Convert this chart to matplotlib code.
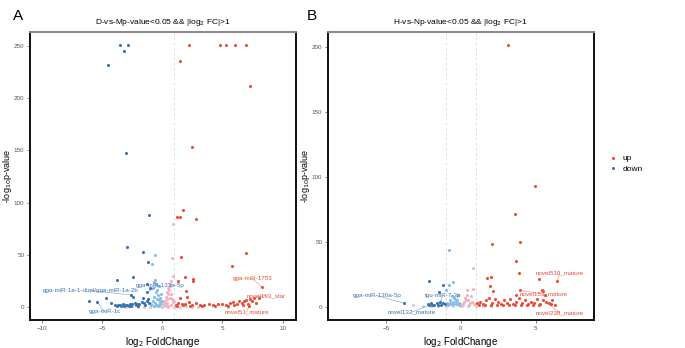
import numpy as np
import matplotlib.pyplot as plt

plt.rcParams['font.family'] = ['Liberation Sans', 'DejaVu Sans']

# ---- panel A data (D-vs-M) ----
a_up_x = [2.24, 4.78, 5.28, 6.08, 6.97, 1.44, 7.32, 2.43, 1.71, 1.49, 1.22, 2.79, 1.58, 6.97, 5.83,
          1.85, 2.57, 2.55, 1.30, 8.27, 7.60, 7.24, 2.00, 2.05, 1.50,
          1.1, 1.3, 1.6, 1.9, 2.2, 2.5, 2.8, 3.1, 3.5, 3.9, 4.2, 4.6, 5.0, 5.3, 5.6, 5.9,
          6.2, 6.4, 6.6, 6.8, 7.0, 7.3, 7.5, 7.8, 8.0, 1.2, 1.7, 2.3, 3.3, 4.4, 5.5, 6.0, 6.7, 7.1]
a_up_y = [251, 251, 251, 251, 251, 236, 212, 153.5, 93, 86, 86, 84.6, 47.8, 51.3, 38.8,
          28.5, 27, 25, 25, 19, 9, 1, 15.7, 10, 9,
          2, 4, 3, 2.5, 5, 2, 3.5, 2, 1.5, 3, 2, 2.5, 3, 1.5, 4, 5,
          3, 6, 4, 5.5, 7, 8, 6, 4, 9, 1, 1.5, 1.2, 1, 1.3, 1.1, 2, 1.5, 3]
a_down_x = [-3.53, -2.82, -3.18, -4.53, -3.04, -1.10, -2.93, -1.63, -1.19, -3.76, -2.46, -4.70,
            -6.08, -5.40, -4.30, -2.60, -2.40, -1.30,
            -3.9, -3.7, -3.5, -3.3, -3.1, -2.9, -2.7, -2.5, -2.3, -2.1, -1.9, -1.7, -1.5, -1.3,
            -1.1, -3.8, -3.2, -2.6, -2.0, -1.4, -1.2, -1.6, -2.2, -2.8, -3.4, -1.05, -1.25]
a_down_y = [251, 251, 245, 232, 148, 88.5, 57, 53, 43, 26, 29, 8.6,
            5.8, 4.5, 4, 11.5, 10, 14,
            1.5, 2, 1.8, 2.5, 1.6, 2.2, 3, 2.4, 4, 3.1, 2.6, 5, 4.2, 6,
            3.5, 0.8, 1, 1.2, 1, 1.4, 8, 9, 2, 1.3, 1.2, 18, 22]
a_ldown_x = [-0.85, -0.58, -0.9, -0.8, -0.7, -0.6, -0.5, -0.4, -0.3, -0.2, -0.1, -0.95, -0.75,
             -0.65, -0.55, -0.45, -0.35, -0.25, -0.15, -0.05, -0.6, -0.4, -0.3, -0.2, -0.7]
a_ldown_y = [41, 50, 3, 6, 10, 4, 14, 8, 20, 5, 12, 2, 18,
             24, 22, 16, 11, 7, 3, 6, 26, 2, 1, 9, 1]
a_pink_x = [0.89, 0.80, 0.1, 0.2, 0.3, 0.4, 0.5, 0.6, 0.7, 0.8, 0.9, 0.15, 0.25, 0.35, 0.45,
            0.55, 0.65, 0.75, 0.85, 0.95, 0.3, 0.5, 0.7, 0.4, 0.6]
a_pink_y = [79.5, 47, 3, 6, 10, 14, 18, 22, 12, 8, 5, 2, 4, 8, 12,
            16, 20, 25, 30, 6, 1, 1, 2, 4, 9]
a_grey_x = [-3.0, -2.5, -2.0, -1.5, -1.0, -0.5, 0.0, 0.5, 1.0, 1.5, 2.0, 2.5, 3.0, 5.5]
a_grey_y = [0.3, 0.5, 0.2, 0.4, 0.3, 0.5, 0.2, 0.4, 0.3, 0.2, 0.5, 0.3, 0.2, 0.4]

# labels: text, text x, text y, point x, point y, colour
a_labels = [('gga-miR-1a-1-dupl/gga-miR-1a-2b', -5.97, 15.7, -2.60, 11.5, '#3B74B4'),
            ('gga-miR-133a-5p', -0.17, 21.0, -1.30, 14.0, '#3B74B4'),
            ('gga-miR-1c', -4.8, -4.5, -5.40, 4.5, '#3B74B4'),
            ('gga-miR-1753', 7.5, 27.0, 8.27, 19.0, '#EE4C3A'),
            ('novel193_star', 8.6, 11.0, 7.60, 9.0, '#EE4C3A'),
            ('novel51_mature', 7.0, -5.0, 7.24, 1.0, '#EE4C3A')]

# ---- panel B data (H-vs-N) ----
b_up_x = [3.13, 4.98, 3.60, 3.95, 2.09, 3.69, 3.87, 6.42, 5.20, 2.00, 1.76, 1.93, 2.15, 3.95,
          3.70, 5.40, 5.50, 5.60, 5.50,
          1.1, 1.3, 1.5, 1.7, 1.9, 2.1, 2.3, 2.5, 2.7, 2.9, 3.1, 3.3, 3.5, 3.7, 3.9, 4.1,
          4.3, 4.5, 4.7, 4.9, 5.1, 5.3, 5.7, 5.9, 6.1, 6.3, 1.2, 1.6, 2.0, 2.4, 2.8, 3.2,
          3.6, 4.0, 4.4, 4.8, 5.2, 6.0]
b_up_y = [201, 92.8, 71.5, 49.8, 48.2, 35, 26.2, 19.5, 21.5, 23, 22, 16, 12, 12.5,
          9, 13, 12, 9, 5,
          3, 4, 2, 5, 7, 3, 6, 4, 2, 5, 3, 6, 2, 4, 7, 3,
          5, 2, 4, 3, 6, 2, 4, 3, 5, 1, 1, 1.5, 1, 1.2, 1.4, 1,
          1.5, 1.2, 1, 1.1, 1.3, 2]
b_down_x = [-2.16, -1.18, -1.45, -3.78, -2.2, -2.0, -1.8, -1.6, -1.4, -1.2, -1.05, -1.9, -1.5,
            -1.3, -2.1]
b_down_y = [19.8, 16.5, 11.3, 2.6, 2, 3, 1.5, 2.5, 4, 3, 2, 1, 1.2, 1.5, 1]
b_ldown_x = [-0.80, -0.80, -0.50, -1.00, -0.9, -0.7, -0.6, -0.5, -0.4, -0.3, -0.2, -0.1,
             -0.85, -0.65, -0.55, -0.45, -0.35, -0.25, -0.15, -0.75]
b_ldown_y = [43.4, 17, 19, 12.7, 3, 5, 8, 2, 6, 4, 9, 3,
             1, 2, 4, 7, 2, 5, 1, 3]
b_pink_x = [0.80, 0.82, 0.38, 0.1, 0.2, 0.3, 0.4, 0.5, 0.6, 0.7, 0.9, 0.15, 0.35, 0.55, 0.75, 0.95]
b_pink_y = [30, 13.5, 13, 2, 4, 7, 9, 5, 3, 8, 2, 1, 5, 1, 4, 2]
b_grey_x = [-3.2, -2.5, -2.0, -1.5, -1.0, -0.5, 0.0, 0.5, 1.0, 1.5, 2.0]
b_grey_y = [1.3, 0.3, 0.5, 0.2, 0.4, 0.3, 0.2, 0.4, 0.3, 0.2, 0.3]

b_labels = [('gga-miR-130a-5p', -5.6, 8.5, -3.78, 2.6, '#3B74B4'),
            ('tgu-miR-7-3p', -1.2, 8.5, -1.45, 2.0, '#3B74B4'),
            ('novel132_mature', -3.3, -4.3, -2.16, 1.0, '#3B74B4'),
            ('novel510_mature', 6.6, 25.7, 6.42, 19.5, '#EE4C3A'),
            ('novel153_mature', 5.5, 9.8, 3.95, 12.5, '#EE4C3A'),
            ('novel238_mature', 6.6, -4.6, 5.50, 5.0, '#EE4C3A')]

c_up = '#EE4C3A'
c_down = '#3B74B4'
c_ldown = '#86BDE8'
c_pink = '#F3B3C2'
c_grey = '#CFCFCF'

fig = plt.figure(figsize=(6.85, 3.48), dpi=100)
axA = fig.add_axes([0.0438, 0.0805, 0.388, 0.8276])
axB = fig.add_axes([0.4788, 0.0805, 0.388, 0.8276])


def volcano(ax, grey, pink, ldown, up, down, labels, title, xlim, ylim, xticks, yticks, vlines):
    ax.scatter(grey[0], grey[1], s=5, color=c_grey, lw=0, zorder=2)
    ax.scatter(ldown[0], ldown[1], s=5, color=c_ldown, lw=0, zorder=3)
    ax.scatter(pink[0], pink[1], s=5, color=c_pink, lw=0, zorder=3)
    ax.scatter(up[0], up[1], s=5, color=c_up, lw=0, zorder=4, label='up')
    ax.scatter(down[0], down[1], s=5, color=c_down, lw=0, zorder=4, label='down')
    for v in vlines:
        ax.axvline(v, color='#D8D8D8', lw=0.6, ls=(0, (3, 3)), zorder=1)
    for txt, tx, ty, px, py, col in labels:
        ax.plot([tx, px], [ty, py], color=col, lw=0.4, alpha=0.7, zorder=5)
        ax.text(tx, ty, txt, fontsize=4.5, color=col, ha='center', va='center', zorder=6)
    ax.set_xlim(*xlim)
    ax.set_ylim(*ylim)
    ax.set_xticks(xticks)
    ax.set_yticks(yticks)
    ax.tick_params(labelsize=4.5, colors='#555555', length=2, width=0.5, pad=2)
    for sp in ax.spines.values():
        sp.set_linewidth(1.4)
        sp.set_color('#111111')
    ax.spines['top'].set_color('#888888')
    ax.set_xlabel('log$_2$ FoldChange', fontsize=7, labelpad=3)
    ax.set_ylabel('-log$_{10}$p-value', fontsize=6.5)
    ax.yaxis.set_label_coords(-0.06, 0.5)
    ax.set_title(title, fontsize=6, pad=6)


volcano(axA, (a_grey_x, a_grey_y), (a_pink_x, a_pink_y), (a_ldown_x, a_ldown_y),
        (a_up_x, a_up_y), (a_down_x, a_down_y), a_labels,
        'D-vs-Mp-value<0.05 && |log$_2$ FC|>1', (-11, 11.1), (-12.5, 263.5),
        [-10, -5, 0, 5, 10], [0, 50, 100, 150, 200, 250], [1])
volcano(axB, (b_grey_x, b_grey_y), (b_pink_x, b_pink_y), (b_ldown_x, b_ldown_y),
        (b_up_x, b_up_y), (b_down_x, b_down_y), b_labels,
        'H-vs-Np-value<0.05 && |log$_2$ FC|>1', (-8.87, 8.87), (-10.2, 211.3),
        [-5, 0, 5], [0, 50, 100, 150, 200], [-1, 1])

handles, lbls = axB.get_legend_handles_labels()
fig.legend(handles, lbls, loc='center left', bbox_to_anchor=(0.872, 0.53), frameon=False,
           fontsize=6, handletextpad=0.1, markerscale=1.0, labelspacing=0.3)

fig.text(0.019, 0.975, 'A', fontsize=11, va='top')
fig.text(0.448, 0.975, 'B', fontsize=11, va='top')

fig.savefig('out.png', dpi=100)
